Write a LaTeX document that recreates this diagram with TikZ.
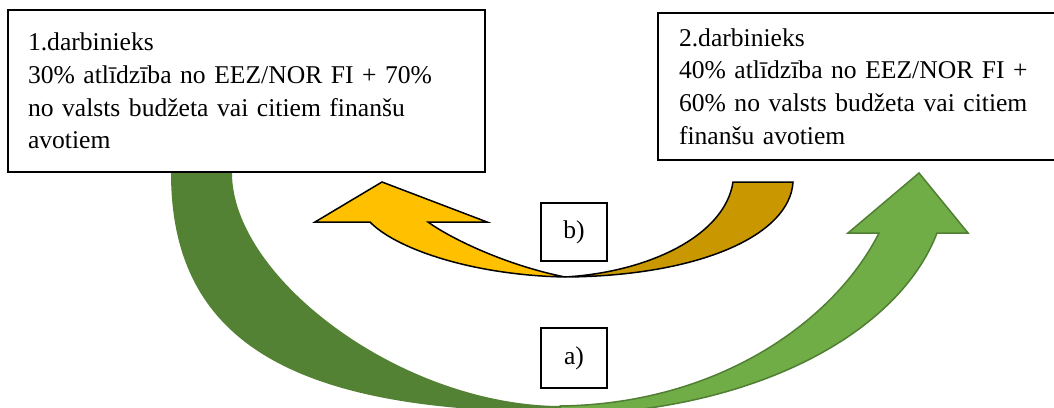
\documentclass[tikz,border=0pt]{standalone}
\usepackage{fontspec}
\setmainfont{Liberation Serif}
\usetikzlibrary{positioning}

\definecolor{zalsTumss}{HTML}{548235}
\definecolor{zalsGaiss}{HTML}{70AD47}
\definecolor{zalsMala}{HTML}{507E32}
\definecolor{dzeltGaiss}{HTML}{FFC000}
\definecolor{dzeltTumss}{HTML}{C99700}

\begin{document}
\begin{tikzpicture}[x=0.5pt, y=-0.5pt, >=stealth]
% Stili kastēm un apzīmējumiem
\tikzset{kaste/.style={draw, fill=white, line width=1pt, anchor=north west, align=left, inner xsep=10pt, font=\fontsize{12.8}{16.3}\selectfont}}
\tikzset{zime/.style={draw, fill=white, line width=0.8pt, inner sep=0pt, font=\fontsize{12.8}{16.3}\selectfont}}
\tikzset{bulta/.style={line width=0.75pt, line join=miter}}

\useasboundingbox (0,0) rectangle (1054,407);

% --- ZAĻĀ BULTA a) ---
\begin{scope}
\clip (0,0) rectangle (1054,407);
% aste (tumšā daļa)
\fill[zalsTumss] (171,173) .. controls (171,340) and (290,412) .. (560,412)
    -- (560,406) .. controls (400,405) and (232,277) .. (232,173) -- cycle;
% kāts un smaile (gaišā daļa)
\filldraw[bulta, fill=zalsGaiss, draw=zalsMala] (560,406) .. controls (720,404) and (835,320) .. (879,233)
    -- (848,233) -- (919,173) -- (968,233) -- (937,233)
    .. controls (900,330) and (760,412) .. (560,415) -- cycle;
\end{scope}

% --- DZELTENĀ BULTA b) ---
% aste (tumšā daļa)
\filldraw[bulta, fill=dzeltTumss, draw=black] (565,277) .. controls (650,272) and (725,235) .. (733,182)
    -- (793,182) .. controls (790,235) and (700,276) .. (565,277) -- cycle;
% kāts un smaile (gaišā daļa)
\filldraw[bulta, fill=dzeltGaiss, draw=black] (565,277) .. controls (470,275) and (395,248) .. (370,222)
    -- (315,222) -- (382,182) -- (487,222) -- (428,222)
    .. controls (450,238) and (505,265) .. (565,277) -- cycle;

% --- DARBINIEKI ---
\node[kaste, text width=218.5pt, minimum width=238.5pt, minimum height=81pt] (darb1) at (7,9)
    {1.darbinieks\\30\% atlīdzība no EEZ/NOR FI + 70\%\\no valsts budžeta vai citiem finanšu\\avotiem};
\begin{scope}
\clip (0,0) rectangle (1054,407);
\node[kaste, inner xsep=10.5pt, text width=210pt, minimum height=73.5pt] (darb2) at (657,12)
    {2.darbinieks\\40\% atlīdzība no EEZ/NOR FI +\\60\% no valsts budžeta vai citiem\\finanšu avotiem};
\end{scope}

% --- APZĪMĒJUMI ---
\node[zime, minimum width=33pt, minimum height=29pt] (zimeB) at (574,232) {b)};
\node[zime, minimum width=33pt, minimum height=30pt] (zimeA) at (574,358) {a)};

\end{tikzpicture}
\end{document}
